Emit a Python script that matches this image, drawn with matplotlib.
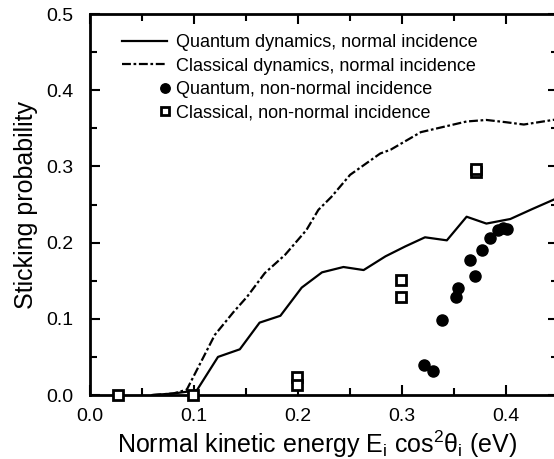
import numpy as np
import matplotlib
matplotlib.use("Agg")
import matplotlib.pyplot as plt
from matplotlib.legend_handler import HandlerLine2D

plt.rcParams['font.family'] = ['Liberation Sans', 'DejaVu Sans']
plt.rcParams['mathtext.fontset'] = 'custom'
plt.rcParams['mathtext.rm'] = 'Liberation Sans'
plt.rcParams['mathtext.it'] = 'Liberation Sans:italic'

# --- data ---
# quantum dynamics, normal incidence
quantum_x = [0.060, 0.080, 0.1026, 0.123, 0.144, 0.163, 0.183, 0.2035, 0.223,
             0.2436, 0.263, 0.284, 0.303, 0.322, 0.343, 0.362, 0.381, 0.404,
             0.425, 0.450]
quantum_y = [0.000, 0.002, 0.006, 0.050, 0.060, 0.095, 0.104, 0.141, 0.161,
             0.168, 0.164, 0.182, 0.195, 0.207, 0.203, 0.234, 0.225, 0.231,
             0.244, 0.259]

# classical dynamics, normal incidence
classical_x = [0.060, 0.080, 0.093, 0.120, 0.138, 0.151, 0.168, 0.1875, 0.208,
               0.2195, 0.232, 0.250, 0.279, 0.289, 0.318, 0.340, 0.362, 0.381,
               0.400, 0.417, 0.445, 0.450]
classical_y = [0.000, 0.002, 0.007, 0.079, 0.109, 0.129, 0.160, 0.184, 0.2165,
               0.243, 0.260, 0.289, 0.317, 0.322, 0.345, 0.352, 0.359, 0.361,
               0.358, 0.355, 0.361, 0.362]

# quantum, non-normal incidence
qnn_x = [0.321, 0.330, 0.338, 0.352, 0.3535, 0.365, 0.370, 0.3766, 0.3846,
         0.3926, 0.3974, 0.401]
qnn_y = [0.039, 0.031, 0.098, 0.128, 0.140, 0.177, 0.156, 0.190, 0.2056,
         0.2165, 0.219, 0.2175]

# classical, non-normal incidence
cnn_x = [0.0266, 0.0994, 0.1987, 0.1987, 0.2987, 0.2987, 0.3715, 0.3715]
cnn_y = [0.000, 0.000, 0.024, 0.013, 0.151, 0.128, 0.293, 0.297]


class RightMarkerHandler(HandlerLine2D):
    # single marker drawn at the right end of the handle (gnuplot style)
    def get_xdata(self, legend, xdescent, ydescent, width, height, fontsize):
        m = -xdescent + width - 1.5
        return [m - 1, m + 1], [m]


fig = plt.figure(figsize=(5.54, 4.59), dpi=100)
ax = fig.add_axes([0.1625, 0.1394, 0.845, 0.830])

ax.plot(quantum_x, quantum_y, color='black', lw=1.6,
        label='Quantum dynamics, normal incidence')
ax.plot(classical_x, classical_y, color='black', lw=1.6,
        dashes=(4, 1.2, 1.2, 1.2),
        label='Classical dynamics, normal incidence')
qnn_line, = ax.plot(qnn_x, qnn_y, 'o', color='black', ms=8, ls='none',
                    label='Quantum, non-normal incidence', clip_on=False, zorder=5)
cnn_line, = ax.plot(cnn_x, cnn_y, 's', mfc='white', mec='black', mew=2, ms=7.5,
                    ls='none', label='Classical, non-normal incidence',
                    clip_on=False, zorder=5)

ax.set_xlim(0, 0.45)
ax.set_ylim(0, 0.5)
ax.set_xticks(np.arange(0, 0.41, 0.1))
ax.set_xticks(np.arange(0.05, 0.45, 0.1), minor=True)
ax.set_yticks(np.arange(0, 0.51, 0.1))
ax.set_yticks(np.arange(0.05, 0.5, 0.1), minor=True)
ax.xaxis.set_major_formatter(plt.FormatStrFormatter('%.1f'))
ax.yaxis.set_major_formatter(plt.FormatStrFormatter('%.1f'))
ax.tick_params(which='both', direction='in', top=True, right=True,
               width=1.5, labelsize=14)
ax.tick_params(which='major', length=7)
ax.tick_params(which='minor', length=5)
ax.tick_params(axis='y', pad=12)
ax.tick_params(axis='x', pad=9)
for s in ax.spines.values():
    s.set_linewidth(2)

ax.set_xlabel('Normal kinetic energy E$_\\mathrm{i}$ cos$^\\mathrm{2}$θ$_\\mathrm{i}$ (eV)',
              fontsize=18)
ax.xaxis.set_label_coords(0.485, -0.088)
ax.set_ylabel('Sticking probability', fontsize=18, labelpad=6)

ax.legend(loc='upper left', bbox_to_anchor=(0.069, 0.947), frameon=False,
          fontsize=13, handlelength=2.5, handletextpad=0.5, labelspacing=0.35,
          borderaxespad=0, borderpad=0, numpoints=1, markerscale=0.85,
          handler_map={qnn_line: RightMarkerHandler(),
                       cnn_line: RightMarkerHandler()})

fig.savefig('out.png', dpi=100)
